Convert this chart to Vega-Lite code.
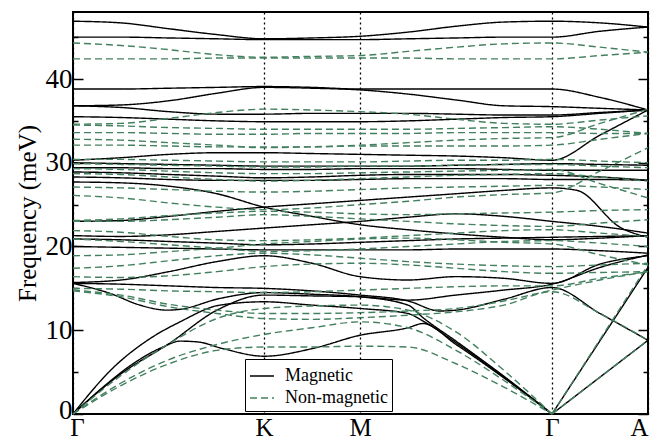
{
"$schema":"https://vega.github.io/schema/vega-lite/v6.json",
"width":575,"height":402,
"autosize":{"type":"none"},
"padding":{"left":73,"top":12,"right":5,"bottom":26},
"config":{"view":{"stroke":"black","strokeWidth":2},"font":"Liberation Serif",
"axis":{"labelFont":"Liberation Serif","titleFont":"Liberation Serif","labelColor":"black","titleColor":"black"},
"legend":{"labelFont":"Liberation Serif","titleFont":"Liberation Serif"}},
"datasets":{
"mag":[
{"b":1,"x":0,"y":46.9},{"b":1,"x":48,"y":46.7},{"b":1,"x":96,"y":46.0},{"b":1,"x":144,"y":45.3},{"b":1,"x":191,"y":44.8},{"b":1,"x":239,"y":44.9},{"b":1,"x":287,"y":45.1},{"b":1,"x":335,"y":45.6},{"b":1,"x":383,"y":46.3},{"b":1,"x":431,"y":46.8},{"b":1,"x":479,"y":46.9},{"b":1,"x":527,"y":46.7},{"b":1,"x":575,"y":46.2},
{"b":2,"x":0,"y":45.0},{"b":2,"x":48,"y":45.0},{"b":2,"x":96,"y":44.9},{"b":2,"x":144,"y":44.8},{"b":2,"x":191,"y":44.7},{"b":2,"x":239,"y":44.7},{"b":2,"x":287,"y":44.7},{"b":2,"x":335,"y":44.8},{"b":2,"x":383,"y":44.9},{"b":2,"x":431,"y":45.0},{"b":2,"x":479,"y":45.0},{"b":2,"x":527,"y":45.7},{"b":2,"x":575,"y":46.2},
{"b":3,"x":0,"y":38.8},{"b":3,"x":48,"y":38.8},{"b":3,"x":96,"y":38.9},{"b":3,"x":144,"y":39.0},{"b":3,"x":191,"y":39.1},{"b":3,"x":239,"y":39.0},{"b":3,"x":287,"y":38.8},{"b":3,"x":335,"y":38.8},{"b":3,"x":383,"y":38.8},{"b":3,"x":431,"y":38.8},{"b":3,"x":479,"y":38.8},{"b":3,"x":527,"y":37.8},{"b":3,"x":575,"y":36.3},
{"b":4,"x":0,"y":36.8},{"b":4,"x":48,"y":36.9},{"b":4,"x":96,"y":37.4},{"b":4,"x":144,"y":38.3},{"b":4,"x":191,"y":39.0},{"b":4,"x":239,"y":38.9},{"b":4,"x":287,"y":38.7},{"b":4,"x":335,"y":38.2},{"b":4,"x":383,"y":37.5},{"b":4,"x":431,"y":36.8},{"b":4,"x":479,"y":36.7},{"b":4,"x":527,"y":36.5},{"b":4,"x":575,"y":36.3},
{"b":5,"x":0,"y":36.8},{"b":5,"x":48,"y":36.6},{"b":5,"x":96,"y":36.1},{"b":5,"x":144,"y":35.8},{"b":5,"x":191,"y":35.8},{"b":5,"x":239,"y":35.9},{"b":5,"x":287,"y":35.9},{"b":5,"x":335,"y":35.9},{"b":5,"x":383,"y":35.8},{"b":5,"x":431,"y":35.7},{"b":5,"x":479,"y":35.7},{"b":5,"x":527,"y":36.0},{"b":5,"x":575,"y":36.3},
{"b":6,"x":0,"y":35.5},{"b":6,"x":48,"y":35.4},{"b":6,"x":96,"y":35.2},{"b":6,"x":144,"y":35.0},{"b":6,"x":191,"y":34.9},{"b":6,"x":239,"y":34.9},{"b":6,"x":287,"y":34.9},{"b":6,"x":335,"y":35.0},{"b":6,"x":383,"y":35.2},{"b":6,"x":431,"y":35.4},{"b":6,"x":479,"y":35.5},{"b":6,"x":527,"y":35.9},{"b":6,"x":575,"y":36.3},
{"b":7,"x":0,"y":30.3},{"b":7,"x":48,"y":30.6},{"b":7,"x":96,"y":31.0},{"b":7,"x":144,"y":31.2},{"b":7,"x":191,"y":31.2},{"b":7,"x":239,"y":31.1},{"b":7,"x":287,"y":31.0},{"b":7,"x":335,"y":30.9},{"b":7,"x":383,"y":30.8},{"b":7,"x":431,"y":30.6},{"b":7,"x":479,"y":30.3},{"b":7,"x":527,"y":33.3},{"b":7,"x":575,"y":36.3},
{"b":8,"x":0,"y":30.0},{"b":8,"x":48,"y":29.9},{"b":8,"x":96,"y":29.8},{"b":8,"x":144,"y":29.7},{"b":8,"x":191,"y":29.6},{"b":8,"x":239,"y":29.6},{"b":8,"x":287,"y":29.6},{"b":8,"x":335,"y":29.6},{"b":8,"x":383,"y":29.7},{"b":8,"x":431,"y":29.8},{"b":8,"x":479,"y":29.9},{"b":8,"x":527,"y":29.8},{"b":8,"x":575,"y":29.7},
{"b":9,"x":0,"y":29.4},{"b":9,"x":48,"y":29.4},{"b":9,"x":96,"y":29.3},{"b":9,"x":144,"y":29.3},{"b":9,"x":191,"y":29.2},{"b":9,"x":239,"y":29.2},{"b":9,"x":287,"y":29.3},{"b":9,"x":335,"y":29.3},{"b":9,"x":383,"y":29.3},{"b":9,"x":431,"y":29.2},{"b":9,"x":479,"y":29.1},{"b":9,"x":527,"y":29.1},{"b":9,"x":575,"y":29.1},
{"b":10,"x":0,"y":28.9},{"b":10,"x":48,"y":28.8},{"b":10,"x":96,"y":28.6},{"b":10,"x":144,"y":28.4},{"b":10,"x":191,"y":28.2},{"b":10,"x":239,"y":28.3},{"b":10,"x":287,"y":28.5},{"b":10,"x":335,"y":28.6},{"b":10,"x":383,"y":28.6},{"b":10,"x":431,"y":28.6},{"b":10,"x":479,"y":28.5},{"b":10,"x":527,"y":28.3},{"b":10,"x":575,"y":27.9},
{"b":11,"x":0,"y":28.3},{"b":11,"x":48,"y":28.2},{"b":11,"x":96,"y":28.0},{"b":11,"x":144,"y":27.9},{"b":11,"x":191,"y":27.9},{"b":11,"x":239,"y":27.9},{"b":11,"x":287,"y":28.0},{"b":11,"x":335,"y":28.1},{"b":11,"x":383,"y":28.1},{"b":11,"x":431,"y":28.1},{"b":11,"x":479,"y":28.0},{"b":11,"x":527,"y":28.0},{"b":11,"x":575,"y":27.9},
{"b":12,"x":0,"y":27.7},{"b":12,"x":48,"y":27.6},{"b":12,"x":96,"y":27.2},{"b":12,"x":144,"y":26.3},{"b":12,"x":191,"y":24.7},{"b":12,"x":239,"y":23.6},{"b":12,"x":287,"y":22.6},{"b":12,"x":335,"y":22.0},{"b":12,"x":383,"y":21.5},{"b":12,"x":431,"y":21.1},{"b":12,"x":479,"y":20.8},{"b":12,"x":527,"y":21.0},{"b":12,"x":575,"y":21.3},
{"b":13,"x":0,"y":23.0},{"b":13,"x":48,"y":23.1},{"b":13,"x":96,"y":23.6},{"b":13,"x":144,"y":24.2},{"b":13,"x":191,"y":24.7},{"b":13,"x":239,"y":25.1},{"b":13,"x":287,"y":25.5},{"b":13,"x":335,"y":25.9},{"b":13,"x":383,"y":26.3},{"b":13,"x":431,"y":26.7},{"b":13,"x":479,"y":27.0},{"b":13,"x":504,"y":26.7},{"b":13,"x":547,"y":22.3},{"b":13,"x":575,"y":21.1},
{"b":14,"x":0,"y":21.3},{"b":14,"x":48,"y":21.2},{"b":14,"x":96,"y":21.4},{"b":14,"x":144,"y":21.8},{"b":14,"x":191,"y":22.2},{"b":14,"x":239,"y":22.6},{"b":14,"x":287,"y":23.0},{"b":14,"x":335,"y":23.5},{"b":14,"x":383,"y":23.9},{"b":14,"x":431,"y":23.6},{"b":14,"x":479,"y":23.0},{"b":14,"x":527,"y":22.4},{"b":14,"x":575,"y":21.6},
{"b":15,"x":0,"y":20.9},{"b":15,"x":48,"y":20.8},{"b":15,"x":96,"y":20.6},{"b":15,"x":144,"y":20.4},{"b":15,"x":191,"y":20.2},{"b":15,"x":239,"y":20.3},{"b":15,"x":287,"y":20.5},{"b":15,"x":335,"y":20.7},{"b":15,"x":383,"y":20.9},{"b":15,"x":431,"y":21.0},{"b":15,"x":479,"y":21.1},{"b":15,"x":527,"y":21.2},{"b":15,"x":575,"y":21.3},
{"b":16,"x":0,"y":20.0},{"b":16,"x":48,"y":19.9},{"b":16,"x":96,"y":19.8},{"b":16,"x":144,"y":19.7},{"b":16,"x":191,"y":19.6},{"b":16,"x":239,"y":19.6},{"b":16,"x":287,"y":19.6},{"b":16,"x":335,"y":19.6},{"b":16,"x":383,"y":19.7},{"b":16,"x":431,"y":19.7},{"b":16,"x":479,"y":19.7},{"b":16,"x":527,"y":19.5},{"b":16,"x":575,"y":19.2},
{"b":17,"x":0,"y":15.7},{"b":17,"x":48,"y":16.0},{"b":17,"x":96,"y":17.0},{"b":17,"x":144,"y":18.2},{"b":17,"x":191,"y":18.9},{"b":17,"x":239,"y":18.0},{"b":17,"x":287,"y":16.4},{"b":17,"x":335,"y":16.0},{"b":17,"x":383,"y":16.4},{"b":17,"x":431,"y":16.2},{"b":17,"x":479,"y":15.6},{"b":17,"x":527,"y":17.9},{"b":17,"x":575,"y":18.9},
{"b":18,"x":0,"y":15.6},{"b":18,"x":48,"y":15.5},{"b":18,"x":96,"y":15.3},{"b":18,"x":144,"y":15.1},{"b":18,"x":191,"y":15.0},{"b":18,"x":239,"y":14.7},{"b":18,"x":287,"y":14.2},{"b":18,"x":335,"y":13.5},{"b":18,"x":367,"y":12.3},{"b":18,"x":383,"y":12.4},{"b":18,"x":431,"y":13.7},{"b":18,"x":479,"y":15.1},{"b":18,"x":527,"y":12.0},{"b":18,"x":575,"y":8.8},
{"b":19,"x":0,"y":15.6},{"b":19,"x":37,"y":14.4},{"b":19,"x":67,"y":13.0},{"b":19,"x":94,"y":12.4},{"b":19,"x":107,"y":12.5},{"b":19,"x":147,"y":13.8},{"b":19,"x":191,"y":14.5},{"b":19,"x":239,"y":14.3},{"b":19,"x":287,"y":14.0},{"b":19,"x":335,"y":13.0},{"b":19,"x":350,"y":11.5},{"b":19,"x":383,"y":8.7},{"b":19,"x":431,"y":4.5},{"b":19,"x":479,"y":0},
{"b":20,"x":0,"y":0},{"b":20,"x":30,"y":3.2},{"b":20,"x":60,"y":6.0},{"b":20,"x":90,"y":8.0},{"b":20,"x":107,"y":8.7},{"b":20,"x":125,"y":8.6},{"b":20,"x":150,"y":7.8},{"b":20,"x":191,"y":6.9},{"b":20,"x":239,"y":7.8},{"b":20,"x":287,"y":9.4},{"b":20,"x":335,"y":10.3},{"b":20,"x":350,"y":10.8},{"b":20,"x":383,"y":8.3},{"b":20,"x":431,"y":4.3},{"b":20,"x":479,"y":0},
{"b":21,"x":0,"y":0},{"b":21,"x":40,"y":5.5},{"b":21,"x":77,"y":9.0},{"b":21,"x":107,"y":11.0},{"b":21,"x":147,"y":13.0},{"b":21,"x":191,"y":13.4},{"b":21,"x":239,"y":13.0},{"b":21,"x":287,"y":12.6},{"b":21,"x":335,"y":12.0},{"b":21,"x":350,"y":11.1},{"b":21,"x":383,"y":8.5},{"b":21,"x":431,"y":4.4},{"b":21,"x":479,"y":0},
{"b":22,"x":0,"y":0},{"b":22,"x":48,"y":4.8},{"b":22,"x":96,"y":8.4},{"b":22,"x":144,"y":12.4},{"b":22,"x":191,"y":14.2},{"b":22,"x":239,"y":14.1},{"b":22,"x":287,"y":14.0},{"b":22,"x":335,"y":13.6},{"b":22,"x":383,"y":14.2},{"b":22,"x":431,"y":14.8},{"b":22,"x":479,"y":15.5},{"b":22,"x":527,"y":17.5},{"b":22,"x":575,"y":19.0},
{"b":23,"x":479,"y":0},{"b":23,"x":575,"y":8.8},
{"b":24,"x":479,"y":0},{"b":24,"x":575,"y":17.5}
],
"non":[
{"b":1,"x":0,"y":44.3},{"b":1,"x":48,"y":44.0},{"b":1,"x":96,"y":43.5},{"b":1,"x":144,"y":42.9},{"b":1,"x":191,"y":42.6},{"b":1,"x":239,"y":42.7},{"b":1,"x":287,"y":42.8},{"b":1,"x":335,"y":43.3},{"b":1,"x":383,"y":43.8},{"b":1,"x":431,"y":44.2},{"b":1,"x":479,"y":44.3},{"b":1,"x":527,"y":43.8},{"b":1,"x":575,"y":43.2},
{"b":2,"x":0,"y":42.4},{"b":2,"x":48,"y":42.4},{"b":2,"x":96,"y":42.4},{"b":2,"x":144,"y":42.5},{"b":2,"x":191,"y":42.5},{"b":2,"x":239,"y":42.5},{"b":2,"x":287,"y":42.5},{"b":2,"x":335,"y":42.5},{"b":2,"x":383,"y":42.4},{"b":2,"x":431,"y":42.4},{"b":2,"x":479,"y":42.4},{"b":2,"x":527,"y":42.8},{"b":2,"x":575,"y":43.2},
{"b":3,"x":0,"y":34.6},{"b":3,"x":48,"y":34.7},{"b":3,"x":96,"y":35.3},{"b":3,"x":144,"y":36.0},{"b":3,"x":191,"y":36.4},{"b":3,"x":239,"y":36.3},{"b":3,"x":287,"y":36.1},{"b":3,"x":335,"y":35.8},{"b":3,"x":383,"y":35.2},{"b":3,"x":431,"y":34.7},{"b":3,"x":479,"y":34.6},{"b":3,"x":527,"y":35.1},{"b":3,"x":575,"y":35.6},
{"b":4,"x":0,"y":34.5},{"b":4,"x":48,"y":34.4},{"b":4,"x":96,"y":34.2},{"b":4,"x":144,"y":34.1},{"b":4,"x":191,"y":34.0},{"b":4,"x":239,"y":34.0},{"b":4,"x":287,"y":34.0},{"b":4,"x":335,"y":34.0},{"b":4,"x":383,"y":34.1},{"b":4,"x":431,"y":34.2},{"b":4,"x":479,"y":34.3},{"b":4,"x":527,"y":34.0},{"b":4,"x":575,"y":33.5},
{"b":5,"x":0,"y":33.6},{"b":5,"x":48,"y":33.6},{"b":5,"x":96,"y":33.5},{"b":5,"x":144,"y":33.4},{"b":5,"x":191,"y":33.4},{"b":5,"x":239,"y":33.5},{"b":5,"x":287,"y":33.5},{"b":5,"x":335,"y":33.5},{"b":5,"x":383,"y":33.6},{"b":5,"x":431,"y":33.6},{"b":5,"x":479,"y":33.6},{"b":5,"x":527,"y":33.5},{"b":5,"x":575,"y":33.5},
{"b":6,"x":0,"y":32.1},{"b":6,"x":48,"y":32.1},{"b":6,"x":96,"y":32.0},{"b":6,"x":144,"y":31.9},{"b":6,"x":191,"y":31.9},{"b":6,"x":239,"y":31.9},{"b":6,"x":287,"y":32.0},{"b":6,"x":335,"y":32.0},{"b":6,"x":383,"y":32.0},{"b":6,"x":431,"y":32.0},{"b":6,"x":479,"y":32.1},{"b":6,"x":527,"y":32.8},{"b":6,"x":575,"y":33.5},
{"b":7,"x":0,"y":32.8},{"b":7,"x":48,"y":32.7},{"b":7,"x":96,"y":32.4},{"b":7,"x":144,"y":32.1},{"b":7,"x":191,"y":31.8},{"b":7,"x":239,"y":31.9},{"b":7,"x":287,"y":32.1},{"b":7,"x":335,"y":32.4},{"b":7,"x":383,"y":32.7},{"b":7,"x":431,"y":32.9},{"b":7,"x":479,"y":33.0},{"b":7,"x":527,"y":34.7},{"b":7,"x":575,"y":36.4},
{"b":8,"x":0,"y":30.4},{"b":8,"x":48,"y":30.4},{"b":8,"x":96,"y":30.3},{"b":8,"x":144,"y":30.2},{"b":8,"x":191,"y":30.1},{"b":8,"x":239,"y":30.1},{"b":8,"x":287,"y":30.1},{"b":8,"x":335,"y":30.2},{"b":8,"x":383,"y":30.3},{"b":8,"x":431,"y":30.3},{"b":8,"x":479,"y":30.4},{"b":8,"x":527,"y":30.2},{"b":8,"x":575,"y":30.0},
{"b":9,"x":0,"y":29.9},{"b":9,"x":48,"y":29.8},{"b":9,"x":96,"y":29.7},{"b":9,"x":144,"y":29.6},{"b":9,"x":191,"y":29.5},{"b":9,"x":239,"y":29.5},{"b":9,"x":287,"y":29.6},{"b":9,"x":335,"y":29.6},{"b":9,"x":383,"y":29.7},{"b":9,"x":431,"y":29.8},{"b":9,"x":479,"y":29.8},{"b":9,"x":527,"y":29.6},{"b":9,"x":575,"y":29.4},
{"b":10,"x":0,"y":29.3},{"b":10,"x":48,"y":29.2},{"b":10,"x":96,"y":29.0},{"b":10,"x":144,"y":28.8},{"b":10,"x":191,"y":28.7},{"b":10,"x":239,"y":28.7},{"b":10,"x":287,"y":28.8},{"b":10,"x":335,"y":28.9},{"b":10,"x":383,"y":29.0},{"b":10,"x":431,"y":29.1},{"b":10,"x":479,"y":29.2},{"b":10,"x":527,"y":27.5},{"b":10,"x":575,"y":25.8},
{"b":11,"x":0,"y":28.7},{"b":11,"x":48,"y":28.6},{"b":11,"x":96,"y":28.3},{"b":11,"x":144,"y":28.0},{"b":11,"x":191,"y":27.8},{"b":11,"x":239,"y":27.9},{"b":11,"x":287,"y":28.1},{"b":11,"x":335,"y":28.3},{"b":11,"x":383,"y":28.5},{"b":11,"x":431,"y":28.6},{"b":11,"x":479,"y":28.7},{"b":11,"x":527,"y":28.3},{"b":11,"x":575,"y":27.8},
{"b":12,"x":0,"y":27.1},{"b":12,"x":48,"y":27.0},{"b":12,"x":96,"y":26.8},{"b":12,"x":144,"y":26.6},{"b":12,"x":191,"y":26.5},{"b":12,"x":239,"y":26.6},{"b":12,"x":287,"y":26.8},{"b":12,"x":335,"y":27.0},{"b":12,"x":383,"y":27.1},{"b":12,"x":431,"y":27.2},{"b":12,"x":479,"y":27.3},{"b":12,"x":527,"y":27.1},{"b":12,"x":575,"y":26.8},
{"b":13,"x":0,"y":26.1},{"b":13,"x":48,"y":25.8},{"b":13,"x":96,"y":25.2},{"b":13,"x":144,"y":24.7},{"b":13,"x":191,"y":24.4},{"b":13,"x":239,"y":24.6},{"b":13,"x":287,"y":25.0},{"b":13,"x":335,"y":25.4},{"b":13,"x":383,"y":25.9},{"b":13,"x":431,"y":26.2},{"b":13,"x":479,"y":26.4},{"b":13,"x":527,"y":29.0},{"b":13,"x":575,"y":31.8},
{"b":14,"x":0,"y":23.1},{"b":14,"x":48,"y":23.3},{"b":14,"x":96,"y":23.7},{"b":14,"x":144,"y":24.0},{"b":14,"x":191,"y":24.2},{"b":14,"x":239,"y":24.1},{"b":14,"x":287,"y":23.9},{"b":14,"x":335,"y":23.8},{"b":14,"x":383,"y":23.9},{"b":14,"x":431,"y":24.0},{"b":14,"x":479,"y":24.1},{"b":14,"x":527,"y":24.3},{"b":14,"x":575,"y":24.4},
{"b":15,"x":0,"y":23.0},{"b":15,"x":48,"y":23.0},{"b":15,"x":96,"y":23.2},{"b":15,"x":144,"y":23.5},{"b":15,"x":191,"y":23.8},{"b":15,"x":239,"y":23.6},{"b":15,"x":287,"y":23.3},{"b":15,"x":335,"y":23.0},{"b":15,"x":383,"y":22.7},{"b":15,"x":431,"y":22.5},{"b":15,"x":479,"y":22.4},{"b":15,"x":527,"y":22.8},{"b":15,"x":575,"y":23.2},
{"b":16,"x":0,"y":21.9},{"b":16,"x":48,"y":21.7},{"b":16,"x":96,"y":21.2},{"b":16,"x":144,"y":20.8},{"b":16,"x":191,"y":20.7},{"b":16,"x":239,"y":20.8},{"b":16,"x":287,"y":21.0},{"b":16,"x":335,"y":21.3},{"b":16,"x":383,"y":21.6},{"b":16,"x":431,"y":21.9},{"b":16,"x":479,"y":22.0},{"b":16,"x":527,"y":21.6},{"b":16,"x":575,"y":21.2},
{"b":17,"x":0,"y":20.9},{"b":17,"x":48,"y":20.6},{"b":17,"x":96,"y":20.2},{"b":17,"x":144,"y":19.8},{"b":17,"x":191,"y":19.4},{"b":17,"x":239,"y":19.5},{"b":17,"x":287,"y":19.7},{"b":17,"x":335,"y":20.0},{"b":17,"x":383,"y":20.3},{"b":17,"x":431,"y":20.6},{"b":17,"x":479,"y":20.7},{"b":17,"x":527,"y":20.4},{"b":17,"x":575,"y":20.0},
{"b":18,"x":0,"y":18.9},{"b":18,"x":48,"y":19.0},{"b":18,"x":96,"y":19.4},{"b":18,"x":144,"y":19.8},{"b":18,"x":191,"y":20.3},{"b":18,"x":239,"y":20.6},{"b":18,"x":287,"y":20.9},{"b":18,"x":335,"y":21.0},{"b":18,"x":383,"y":20.8},{"b":18,"x":431,"y":20.5},{"b":18,"x":479,"y":20.3},{"b":18,"x":527,"y":19.0},{"b":18,"x":575,"y":17.8},
{"b":19,"x":0,"y":17.4},{"b":19,"x":48,"y":17.7},{"b":19,"x":96,"y":18.3},{"b":19,"x":144,"y":18.9},{"b":19,"x":191,"y":19.2},{"b":19,"x":239,"y":19.0},{"b":19,"x":287,"y":18.6},{"b":19,"x":335,"y":18.2},{"b":19,"x":383,"y":17.9},{"b":19,"x":431,"y":17.7},{"b":19,"x":479,"y":17.6},{"b":19,"x":527,"y":17.8},{"b":19,"x":575,"y":18.0},
{"b":20,"x":0,"y":16.4},{"b":20,"x":48,"y":16.3},{"b":20,"x":96,"y":16.5},{"b":20,"x":144,"y":17.0},{"b":20,"x":191,"y":17.6},{"b":20,"x":239,"y":17.9},{"b":20,"x":287,"y":18.0},{"b":20,"x":335,"y":17.8},{"b":20,"x":383,"y":17.4},{"b":20,"x":431,"y":17.0},{"b":20,"x":479,"y":16.8},{"b":20,"x":527,"y":16.9},{"b":20,"x":575,"y":17.0},
{"b":21,"x":0,"y":15.0},{"b":21,"x":48,"y":14.9},{"b":21,"x":96,"y":14.7},{"b":21,"x":144,"y":14.6},{"b":21,"x":191,"y":14.5},{"b":21,"x":239,"y":14.6},{"b":21,"x":287,"y":14.8},{"b":21,"x":335,"y":15.0},{"b":21,"x":383,"y":15.2},{"b":21,"x":431,"y":15.3},{"b":21,"x":479,"y":15.3},{"b":21,"x":527,"y":16.2},{"b":21,"x":575,"y":17.0},
{"b":22,"x":0,"y":14.8},{"b":22,"x":48,"y":14.2},{"b":22,"x":96,"y":13.1},{"b":22,"x":144,"y":12.4},{"b":22,"x":191,"y":12.0},{"b":22,"x":239,"y":12.0},{"b":22,"x":287,"y":12.1},{"b":22,"x":335,"y":12.3},{"b":22,"x":383,"y":12.6},{"b":22,"x":431,"y":13.5},{"b":22,"x":479,"y":14.8},{"b":22,"x":527,"y":16.0},{"b":22,"x":575,"y":17.0},
{"b":23,"x":0,"y":14.7},{"b":23,"x":48,"y":14.0},{"b":23,"x":96,"y":12.8},{"b":23,"x":144,"y":12.0},{"b":23,"x":191,"y":11.4},{"b":23,"x":239,"y":11.3},{"b":23,"x":287,"y":11.5},{"b":23,"x":335,"y":11.8},{"b":23,"x":383,"y":12.2},{"b":23,"x":431,"y":13.0},{"b":23,"x":479,"y":14.6},{"b":23,"x":527,"y":12.0},{"b":23,"x":575,"y":8.8},
{"b":24,"x":0,"y":0},{"b":24,"x":48,"y":3.4},{"b":24,"x":96,"y":6.0},{"b":24,"x":144,"y":7.6},{"b":24,"x":191,"y":8.0},{"b":24,"x":239,"y":8.0},{"b":24,"x":287,"y":8.1},{"b":24,"x":335,"y":8.0},{"b":24,"x":383,"y":6.0},{"b":24,"x":431,"y":3.2},{"b":24,"x":479,"y":0},
{"b":25,"x":0,"y":0},{"b":25,"x":48,"y":3.7},{"b":25,"x":96,"y":6.5},{"b":25,"x":144,"y":8.3},{"b":25,"x":191,"y":9.5},{"b":25,"x":239,"y":10.3},{"b":25,"x":287,"y":11.0},{"b":25,"x":335,"y":10.3},{"b":25,"x":383,"y":7.6},{"b":25,"x":431,"y":4.0},{"b":25,"x":479,"y":0},
{"b":26,"x":0,"y":0},{"b":26,"x":48,"y":4.6},{"b":26,"x":96,"y":8.4},{"b":26,"x":144,"y":11.4},{"b":26,"x":191,"y":12.6},{"b":26,"x":239,"y":12.9},{"b":26,"x":287,"y":13.0},{"b":26,"x":335,"y":12.4},{"b":26,"x":383,"y":9.8},{"b":26,"x":431,"y":5.2},{"b":26,"x":479,"y":0},
{"b":27,"x":479,"y":0},{"b":27,"x":575,"y":8.8},
{"b":28,"x":479,"y":0},{"b":28,"x":575,"y":17.8}
]
},
"resolve":{"axis":{"x":"independent","y":"independent"}},
"layer":[
{
"data":{"name":"mag"},
"mark":{"type":"line","interpolate":"monotone","strokeWidth":1.4},
"encoding":{
"x":{"field":"x","type":"quantitative","scale":{"domain":[0,575],"nice":false},
"axis":{"values":[0,191,287,479,575],"labelExpr":"datum.value==0?'Γ':datum.value==191?'K':datum.value==287?'M':datum.value==479?'Γ':'A'","ticks":false,"domain":false,"grid":true,"gridColor":"black","gridDash":[2,3],"gridWidth":1.3,"labelFont":"Liberation Serif","labelFontSize":25,"labelColor":"black","labelBaseline":"bottom","labelPadding":26,"labelAlign":{"condition":{"test":"datum.value==575","value":"right"},"value":"center"},"labelOffset":{"condition":{"test":"datum.value==0","value":4},"value":0},"labelFlush":false,"title":null}},
"y":{"field":"y","type":"quantitative","scale":{"domain":[0,48],"nice":false},
"axis":{"values":[0,5,10,15,20,25,30,35,40,45],"labelExpr":"datum.value%10==0?datum.label:''","tickSize":{"condition":{"test":"datum.value%10==0","value":-10},"value":-5},"tickColor":"black","tickWidth":1.5,"domain":false,"grid":false,"labelFont":"Liberation Serif","labelFontSize":27,"labelColor":"black","labelPadding":11,"labelOffset":{"condition":{"test":"datum.value==0","value":-4},"value":0},"labelFlush":false,"title":"Frequency (meV)","titleFont":"Liberation Serif","titleFontSize":25,"titleFontWeight":"normal","titleColor":"black","titlePadding":5}},
"detail":{"field":"b","type":"nominal"},
"order":{"field":"x","type":"quantitative"},
"color":{"datum":"Magnetic","type":"nominal","scale":{"domain":["Magnetic","Non-magnetic"],"range":["black","#43805f"]},
"legend":{"orient":"none","legendX":172,"legendY":347,"title":null,"strokeColor":"black","fillColor":"white","padding":4,"rowPadding":0,"symbolType":"stroke","symbolSize":576,"symbolStrokeWidth":1.4,"labelFont":"Liberation Serif","labelFontSize":18,"labelColor":"black","labelOffset":10,
"encode":{"symbols":{"update":{"strokeDash":{"signal":"datum.value=='Non-magnetic'?[7,4]:[1,0]"}}}}}},
"strokeDash":{"datum":"Magnetic","type":"nominal","scale":{"domain":["Magnetic","Non-magnetic"],"range":[[1,0],[7,4]]},"legend":null}
}
},
{
"data":{"name":"non"},
"mark":{"type":"line","interpolate":"monotone","strokeWidth":1.4},
"encoding":{
"x":{"field":"x","type":"quantitative","axis":null},
"y":{"field":"y","type":"quantitative",
"axis":{"orient":"right","values":[0,5,10,15,20,25,30,35,40,45],"labels":false,"tickSize":{"condition":{"test":"datum.value%10==0","value":-10},"value":-5},"tickColor":"black","tickWidth":1.5,"domain":false,"grid":false,"title":null}},
"detail":{"field":"b","type":"nominal"},
"order":{"field":"x","type":"quantitative"},
"color":{"datum":"Non-magnetic","type":"nominal"},
"strokeDash":{"datum":"Non-magnetic","type":"nominal","legend":null}
}
}
]
}
